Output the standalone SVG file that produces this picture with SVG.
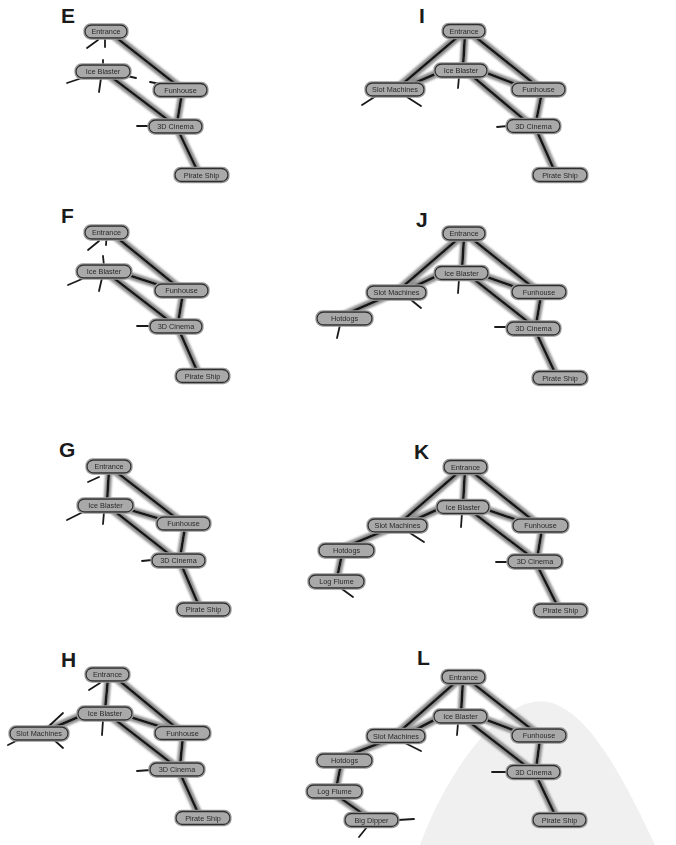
<svg xmlns="http://www.w3.org/2000/svg" width="676" height="845" viewBox="0 0 676 845">
<defs>
<filter id="halo" filterUnits="userSpaceOnUse" x="0" y="0" width="676" height="845">
<feMorphology in="SourceAlpha" operator="dilate" radius="1.8" result="d"/>
<feGaussianBlur in="d" stdDeviation="0.9" result="b"/>
<feFlood flood-color="#8e8e8e"/>
<feComposite in2="b" operator="in" result="h"/>
<feMerge><feMergeNode in="h"/><feMergeNode in="SourceGraphic"/></feMerge>
</filter>
<filter id="nhalo" filterUnits="userSpaceOnUse" x="0" y="0" width="676" height="845">
<feMorphology in="SourceAlpha" operator="dilate" radius="1" result="d"/>
<feGaussianBlur in="d" stdDeviation="0.7" result="b"/>
<feFlood flood-color="#9a9a9a"/>
<feComposite in2="b" operator="in" result="h"/>
<feMerge><feMergeNode in="h"/><feMergeNode in="SourceGraphic"/></feMerge>
</filter>
</defs>
<style>
.edge{stroke:#141414;stroke-width:2.6;stroke-linecap:round;fill:none}
.stub{stroke:#1a1a1a;stroke-width:1.8;stroke-linecap:round;fill:none}
.node rect{fill:#a9a9a9;stroke:#2e2e2e;stroke-width:1.3}
.node text{font-family:"Liberation Sans",Arial,sans-serif;font-size:7.3px;fill:#2a2a2a;text-anchor:middle;dominant-baseline:central}
.lbl{font-family:"Liberation Sans",Arial,sans-serif;font-weight:bold;font-size:21px;fill:#1a1a1a}
</style>
<rect width="676" height="845" fill="#ffffff"/>
<path d="M 420 845 C 440 790 475 735 510 712 C 525 702 540 698 555 704 C 590 718 620 770 655 845 Z" fill="#f0f0f0"/>

<g id="panel-labels">
<text class="lbl" x="61" y="23">E</text>
<text class="lbl" x="61" y="223">F</text>
<text class="lbl" x="59" y="457">G</text>
<text class="lbl" x="61" y="667">H</text>
<text class="lbl" x="419" y="23">I</text>
<text class="lbl" x="416" y="227">J</text>
<text class="lbl" x="414" y="459">K</text>
<text class="lbl" x="417" y="665">L</text>
</g>

<g id="connectors">
<g id="edges" filter="url(#halo)">
<!-- E -->
<line class="edge" x1="113" y1="35" x2="178" y2="86"/>
<line class="edge" x1="110" y1="76" x2="172" y2="123"/>
<line class="edge" x1="182" y1="93" x2="177" y2="123"/>
<line class="edge" x1="178" y1="130" x2="198" y2="172"/>
<!-- F -->
<line class="edge" x1="115" y1="236" x2="179" y2="288"/>
<line class="edge" x1="125" y1="274" x2="165" y2="287"/>
<line class="edge" x1="111" y1="276" x2="172" y2="323"/>
<line class="edge" x1="183" y1="293" x2="178" y2="323"/>
<line class="edge" x1="179" y1="330" x2="198" y2="373"/>
<!-- G -->
<line class="edge" x1="109" y1="470" x2="107" y2="502"/>
<line class="edge" x1="115" y1="471" x2="180" y2="521"/>
<line class="edge" x1="127" y1="509" x2="167" y2="521"/>
<line class="edge" x1="113" y1="510" x2="174" y2="558"/>
<line class="edge" x1="185" y1="527" x2="180" y2="558"/>
<line class="edge" x1="181" y1="564" x2="199" y2="606"/>
<!-- H -->
<line class="edge" x1="108" y1="678" x2="105" y2="710"/>
<line class="edge" x1="116" y1="678" x2="179" y2="730"/>
<line class="edge" x1="127" y1="716" x2="168" y2="729"/>
<line class="edge" x1="83" y1="715" x2="48" y2="730"/>
<line class="edge" x1="113" y1="718" x2="175" y2="766"/>
<line class="edge" x1="183" y1="736" x2="180" y2="766"/>
<line class="edge" x1="180" y1="773" x2="199" y2="815"/>
<!-- I -->
<line class="edge" x1="460" y1="35" x2="400" y2="86"/>
<line class="edge" x1="465" y1="34" x2="463" y2="67"/>
<line class="edge" x1="473" y1="35" x2="537" y2="86"/>
<line class="edge" x1="440" y1="72" x2="410" y2="85"/>
<line class="edge" x1="484" y1="72" x2="518" y2="85"/>
<line class="edge" x1="471" y1="75" x2="527" y2="122"/>
<line class="edge" x1="542" y1="92" x2="536" y2="122"/>
<line class="edge" x1="536" y1="129" x2="555" y2="172"/>
<!-- J -->
<line class="edge" x1="459" y1="238" x2="400" y2="289"/>
<line class="edge" x1="464" y1="237" x2="462" y2="270"/>
<line class="edge" x1="471" y1="238" x2="535" y2="289"/>
<line class="edge" x1="441" y1="274" x2="409" y2="289"/>
<line class="edge" x1="484" y1="276" x2="521" y2="289"/>
<line class="edge" x1="471" y1="277" x2="532" y2="325"/>
<line class="edge" x1="541" y1="295" x2="536" y2="325"/>
<line class="edge" x1="536" y1="332" x2="556" y2="375"/>
<line class="edge" x1="385" y1="297" x2="344" y2="315"/>
<!-- K -->
<line class="edge" x1="460" y1="471" x2="401" y2="522"/>
<line class="edge" x1="465" y1="470" x2="463" y2="504"/>
<line class="edge" x1="471" y1="471" x2="535" y2="522"/>
<line class="edge" x1="443" y1="507" x2="410" y2="522"/>
<line class="edge" x1="485" y1="509" x2="523" y2="522"/>
<line class="edge" x1="471" y1="511" x2="534" y2="559"/>
<line class="edge" x1="542" y1="529" x2="537" y2="559"/>
<line class="edge" x1="537" y1="565" x2="558" y2="607"/>
<line class="edge" x1="386" y1="530" x2="345" y2="547"/>
<line class="edge" x1="342" y1="554" x2="337" y2="578"/>
<!-- L -->
<line class="edge" x1="457" y1="681" x2="398" y2="733"/>
<line class="edge" x1="463" y1="680" x2="461" y2="713"/>
<line class="edge" x1="470" y1="681" x2="535" y2="732"/>
<line class="edge" x1="440" y1="717" x2="409" y2="733"/>
<line class="edge" x1="484" y1="719" x2="521" y2="733"/>
<line class="edge" x1="468" y1="721" x2="530" y2="769"/>
<line class="edge" x1="540" y1="739" x2="536" y2="769"/>
<line class="edge" x1="536" y1="775" x2="556" y2="817"/>
<line class="edge" x1="385" y1="741" x2="344" y2="757"/>
<line class="edge" x1="341" y1="764" x2="336" y2="789"/>
<line class="edge" x1="336" y1="795" x2="366" y2="816"/>
</g>
<g id="stubs">
<!-- E -->
<line class="stub" x1="87" y1="48" x2="98" y2="40"/>
<line class="stub" x1="105" y1="38" x2="105" y2="47"/>
<line class="stub" x1="103" y1="60" x2="103" y2="66"/>
<line class="stub" x1="67" y1="83" x2="82" y2="78"/>
<line class="stub" x1="101" y1="78" x2="99" y2="92"/>
<line class="stub" x1="127" y1="76" x2="136" y2="78"/>
<line class="stub" x1="150" y1="82" x2="160" y2="84"/>
<line class="stub" x1="137" y1="126" x2="150" y2="126"/>
<!-- F -->
<line class="stub" x1="88" y1="250" x2="99" y2="241"/>
<line class="stub" x1="106.5" y1="238" x2="106" y2="245"/>
<line class="stub" x1="103" y1="256" x2="104" y2="266"/>
<line class="stub" x1="68" y1="285" x2="82" y2="279"/>
<line class="stub" x1="102" y1="278" x2="99" y2="291"/>
<line class="stub" x1="137" y1="326" x2="150" y2="326"/>
<!-- G -->
<line class="stub" x1="88" y1="482" x2="99" y2="477"/>
<line class="stub" x1="67" y1="520" x2="83" y2="512"/>
<line class="stub" x1="104" y1="512" x2="103" y2="524"/>
<line class="stub" x1="142" y1="561" x2="152" y2="560"/>
<!-- H -->
<line class="stub" x1="89" y1="690" x2="100" y2="683"/>
<line class="stub" x1="103" y1="720" x2="102" y2="735"/>
<line class="stub" x1="48" y1="727" x2="63" y2="713"/>
<line class="stub" x1="8" y1="745" x2="20" y2="739"/>
<line class="stub" x1="53" y1="739" x2="63" y2="748"/>
<line class="stub" x1="137" y1="771" x2="151" y2="770"/>
<!-- I -->
<line class="stub" x1="459" y1="77" x2="458" y2="88"/>
<line class="stub" x1="362" y1="105" x2="376" y2="96"/>
<line class="stub" x1="407" y1="97" x2="421" y2="106"/>
<line class="stub" x1="497" y1="127" x2="508" y2="126"/>
<!-- J -->
<line class="stub" x1="459" y1="279" x2="458" y2="293"/>
<line class="stub" x1="410" y1="299" x2="421" y2="308"/>
<line class="stub" x1="340" y1="325" x2="337" y2="338"/>
<line class="stub" x1="495" y1="327" x2="507" y2="327"/>
<!-- K -->
<line class="stub" x1="462" y1="513" x2="461" y2="527"/>
<line class="stub" x1="410" y1="533" x2="424" y2="542"/>
<line class="stub" x1="342" y1="589" x2="353" y2="597"/>
<line class="stub" x1="496" y1="562" x2="508" y2="562"/>
<!-- L -->
<line class="stub" x1="458" y1="723" x2="457" y2="735"/>
<line class="stub" x1="405" y1="743" x2="421" y2="751"/>
<line class="stub" x1="398" y1="820" x2="414" y2="819"/>
<line class="stub" x1="367" y1="827" x2="359" y2="837"/>
<line class="stub" x1="492" y1="772" x2="507" y2="772"/>
</g>
</g>

<g id="nodes" filter="url(#nhalo)">
<!-- E -->
<g id="E-entrance" class="node"><rect x="85" y="25" width="42" height="13" rx="6.5"/><text x="106" y="31.5">Entrance</text></g>
<g id="E-iceblaster" class="node"><rect x="76" y="65" width="54" height="13" rx="6.5"/><text x="103" y="71.5">Ice Blaster</text></g>
<g id="E-funhouse" class="node"><rect x="154" y="83.5" width="53" height="13" rx="6.5"/><text x="180.5" y="90">Funhouse</text></g>
<g id="E-cinema" class="node"><rect x="149" y="120" width="53" height="13" rx="6.5"/><text x="175.5" y="126.5">3D Cinema</text></g>
<g id="E-pirate" class="node"><rect x="175" y="168.5" width="53" height="13" rx="6.5"/><text x="201.5" y="175">Pirate Ship</text></g>
<!-- F -->
<g id="F-entrance" class="node"><rect x="85" y="226" width="43" height="13" rx="6.5"/><text x="106.5" y="232.5">Entrance</text></g>
<g id="F-iceblaster" class="node"><rect x="77" y="265" width="54" height="13" rx="6.5"/><text x="104" y="271.5">Ice Blaster</text></g>
<g id="F-funhouse" class="node"><rect x="155" y="284" width="53" height="13" rx="6.5"/><text x="181.5" y="290.5">Funhouse</text></g>
<g id="F-cinema" class="node"><rect x="150" y="320" width="52" height="13" rx="6.5"/><text x="176" y="326.5">3D Cinema</text></g>
<g id="F-pirate" class="node"><rect x="176" y="369.5" width="53" height="13" rx="6.5"/><text x="202.5" y="376">Pirate Ship</text></g>
<!-- G -->
<g id="G-entrance" class="node"><rect x="87" y="460" width="44" height="13" rx="6.5"/><text x="109" y="466.5">Entrance</text></g>
<g id="G-iceblaster" class="node"><rect x="78" y="499" width="55" height="13" rx="6.5"/><text x="105.5" y="505.5">Ice Blaster</text></g>
<g id="G-funhouse" class="node"><rect x="157" y="517" width="53" height="13" rx="6.5"/><text x="183.5" y="523.5">Funhouse</text></g>
<g id="G-cinema" class="node"><rect x="152" y="554" width="53" height="13" rx="6.5"/><text x="178.5" y="560.5">3D Cinema</text></g>
<g id="G-pirate" class="node"><rect x="177" y="603" width="53" height="13" rx="6.5"/><text x="203.5" y="609.5">Pirate Ship</text></g>
<!-- H -->
<g id="H-entrance" class="node"><rect x="86" y="668" width="43" height="13" rx="6.5"/><text x="107.5" y="674.5">Entrance</text></g>
<g id="H-iceblaster" class="node"><rect x="78" y="707" width="54" height="13" rx="6.5"/><text x="105" y="713.5">Ice Blaster</text></g>
<g id="H-slot" class="node"><rect x="10" y="727" width="58" height="13" rx="6.5"/><text x="39" y="733.5">Slot Machines</text></g>
<g id="H-funhouse" class="node"><rect x="155" y="726.5" width="55" height="13" rx="6.5"/><text x="182.5" y="733">Funhouse</text></g>
<g id="H-cinema" class="node"><rect x="150" y="763" width="54" height="13" rx="6.5"/><text x="177" y="769.5">3D Cinema</text></g>
<g id="H-pirate" class="node"><rect x="176" y="811.5" width="54" height="13" rx="6.5"/><text x="203" y="818">Pirate Ship</text></g>
<!-- I -->
<g id="I-entrance" class="node"><rect x="443" y="24.5" width="42" height="13" rx="6.5"/><text x="464" y="31">Entrance</text></g>
<g id="I-iceblaster" class="node"><rect x="435" y="64" width="52" height="13" rx="6.5"/><text x="461" y="70.5">Ice Blaster</text></g>
<g id="I-slot" class="node"><rect x="366" y="83" width="58" height="13" rx="6.5"/><text x="395" y="89.5">Slot Machines</text></g>
<g id="I-funhouse" class="node"><rect x="512" y="83" width="53" height="13" rx="6.5"/><text x="538.5" y="89.5">Funhouse</text></g>
<g id="I-cinema" class="node"><rect x="507" y="119.5" width="53" height="13" rx="6.5"/><text x="533.5" y="126">3D Cinema</text></g>
<g id="I-pirate" class="node"><rect x="533" y="168.5" width="54" height="13" rx="6.5"/><text x="560" y="175">Pirate Ship</text></g>
<!-- J -->
<g id="J-entrance" class="node"><rect x="443" y="227" width="42" height="13" rx="6.5"/><text x="464" y="233.5">Entrance</text></g>
<g id="J-iceblaster" class="node"><rect x="435" y="266.5" width="53" height="13" rx="6.5"/><text x="461.5" y="273">Ice Blaster</text></g>
<g id="J-slot" class="node"><rect x="367" y="286" width="59" height="13" rx="6.5"/><text x="396.5" y="292.5">Slot Machines</text></g>
<g id="J-funhouse" class="node"><rect x="512" y="285.5" width="54" height="13" rx="6.5"/><text x="539" y="292">Funhouse</text></g>
<g id="J-cinema" class="node"><rect x="507" y="322" width="53" height="13" rx="6.5"/><text x="533.5" y="328.5">3D Cinema</text></g>
<g id="J-hotdogs" class="node"><rect x="317" y="312" width="55" height="13" rx="6.5"/><text x="344.5" y="318.5">Hotdogs</text></g>
<g id="J-pirate" class="node"><rect x="533" y="371.5" width="54" height="13" rx="6.5"/><text x="560" y="378">Pirate Ship</text></g>
<!-- K -->
<g id="K-entrance" class="node"><rect x="444" y="460.5" width="43" height="13" rx="6.5"/><text x="465.5" y="467">Entrance</text></g>
<g id="K-iceblaster" class="node"><rect x="437" y="500.5" width="52" height="13" rx="6.5"/><text x="463" y="507">Ice Blaster</text></g>
<g id="K-slot" class="node"><rect x="368" y="519" width="59" height="13" rx="6.5"/><text x="397.5" y="525.5">Slot Machines</text></g>
<g id="K-funhouse" class="node"><rect x="513" y="519" width="55" height="13" rx="6.5"/><text x="540.5" y="525.5">Funhouse</text></g>
<g id="K-cinema" class="node"><rect x="508" y="555" width="54" height="13" rx="6.5"/><text x="535" y="561.5">3D Cinema</text></g>
<g id="K-hotdogs" class="node"><rect x="319" y="544" width="55" height="13" rx="6.5"/><text x="346.5" y="550.5">Hotdogs</text></g>
<g id="K-logflume" class="node"><rect x="309" y="575" width="55" height="13" rx="6.5"/><text x="336.5" y="581.5">Log Flume</text></g>
<g id="K-pirate" class="node"><rect x="534" y="604" width="53" height="13" rx="6.5"/><text x="560.5" y="610.5">Pirate Ship</text></g>
<!-- L -->
<g id="L-entrance" class="node"><rect x="442" y="670.5" width="43" height="13" rx="6.5"/><text x="463.5" y="677">Entrance</text></g>
<g id="L-iceblaster" class="node"><rect x="434" y="710" width="53" height="13" rx="6.5"/><text x="460.5" y="716.5">Ice Blaster</text></g>
<g id="L-slot" class="node"><rect x="367" y="729.5" width="58" height="13" rx="6.5"/><text x="396" y="736">Slot Machines</text></g>
<g id="L-funhouse" class="node"><rect x="512" y="729" width="54" height="13" rx="6.5"/><text x="539" y="735.5">Funhouse</text></g>
<g id="L-cinema" class="node"><rect x="507" y="765.5" width="53" height="13" rx="6.5"/><text x="533.5" y="772">3D Cinema</text></g>
<g id="L-hotdogs" class="node"><rect x="317" y="754" width="55" height="13" rx="6.5"/><text x="344.5" y="760.5">Hotdogs</text></g>
<g id="L-logflume" class="node"><rect x="307" y="785" width="55" height="13" rx="6.5"/><text x="334.5" y="791.5">Log Flume</text></g>
<g id="L-bigdipper" class="node"><rect x="345" y="813.5" width="53" height="13" rx="6.5"/><text x="371.5" y="820">Big Dipper</text></g>
<g id="L-pirate" class="node"><rect x="533" y="813.5" width="53" height="13" rx="6.5"/><text x="559.5" y="820">Pirate Ship</text></g>
</g>
</svg>
